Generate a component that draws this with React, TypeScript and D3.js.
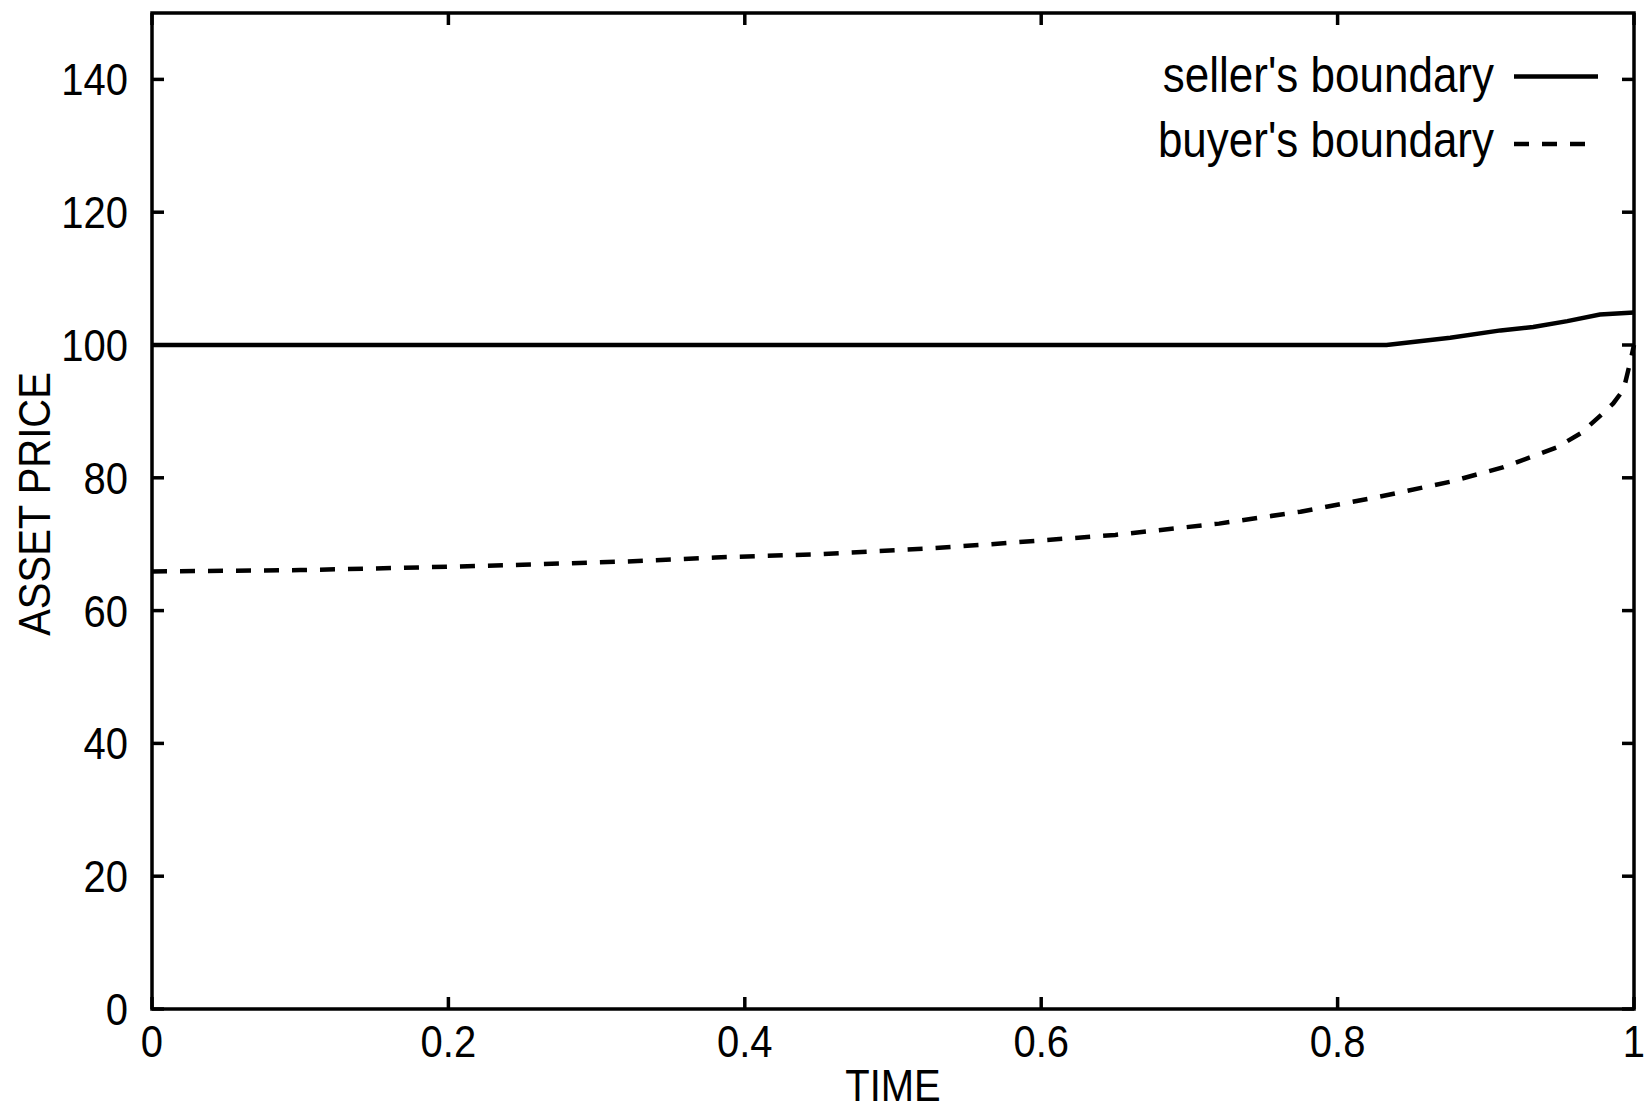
import React from "react";
import * as d3 from "d3";

const sellerT = [0, 0.833, 0.876, 0.91, 0.932, 0.955, 0.977, 1];
const sellerV = [100, 100, 101.1, 102.2, 102.7, 103.6, 104.6, 104.9];

const buyerT = [0, 0.1, 0.18, 0.25, 0.32, 0.38, 0.45, 0.52, 0.56, 0.65, 0.72, 0.775, 0.827, 0.876, 0.912, 0.948, 0.964, 0.979, 0.986, 0.993, 0.997, 1];
const buyerV = [65.9, 66.1, 66.5, 66.9, 67.4, 68.0, 68.5, 69.3, 69.9, 71.4, 73.1, 74.9, 77.1, 79.4, 81.6, 84.6, 86.7, 89.7, 91.2, 93.3, 97, 100];

const xTicks = [0, 0.2, 0.4, 0.6, 0.8, 1];
const yTicks = [0, 20, 40, 60, 80, 100, 120, 140];
const xLabel = "TIME";
const yLabel = "ASSET PRICE";
const seriesNames = ["seller's boundary", "buyer's boundary"];

const W = 1646, H = 1111;
const L = 152, R = 1634, T = 13, B = 1009;
const FONT = "'Liberation Sans', Arial, Helvetica, sans-serif";
const SY = 1.12;

export default function App() {
  const x = d3.scaleLinear().domain([0, 1]).range([L, R]);
  const y = d3.scaleLinear().domain([0, 150]).range([B, T]);
  const line = d3.line<[number, number]>().x(d => x(d[0])).y(d => y(d[1]));
  const seller = sellerT.map((t, i) => [t, sellerV[i]] as [number, number]);
  const buyer = buyerT.map((t, i) => [t, buyerV[i]] as [number, number]);
  const fmt = (v: number) => (v === 0 ? "0" : v === 1 ? "1" : String(v));
  const tickLen = 12;

  const txt = (key: string, tx: number, ty: number, s: string, anchor: string, size = 40, rot = 0) => (
    <text
      key={key}
      transform={`translate(${tx},${ty}) rotate(${rot}) scale(1,${SY})`}
      textAnchor={anchor}
      fontFamily={FONT}
      fontSize={size}
      fill="#000"
    >
      {s}
    </text>
  );

  return (
    <svg width={W} height={H} style={{ position: "absolute", left: 0, top: 0, background: "#fff" }}>
      <rect x={0} y={0} width={W} height={H} fill="#fff" />
      {/* ticks */}
      {xTicks.map(v => (
        <g key={"xt" + v} stroke="#000" strokeWidth={3.5}>
          <line x1={x(v)} x2={x(v)} y1={B} y2={B - tickLen} />
          <line x1={x(v)} x2={x(v)} y1={T} y2={T + tickLen} />
        </g>
      ))}
      {yTicks.map(v => (
        <g key={"yt" + v} stroke="#000" strokeWidth={3.5}>
          <line x1={L} x2={L + tickLen} y1={y(v)} y2={y(v)} />
          <line x1={R} x2={R - tickLen} y1={y(v)} y2={y(v)} />
        </g>
      ))}
      {/* curves */}
      <path d={line(seller) || ""} fill="none" stroke="#000" strokeWidth={4.5} />
      <path d={line(buyer) || ""} fill="none" stroke="#000" strokeWidth={4.5} strokeDasharray="15,13" />
      {/* frame */}
      <rect x={L} y={T} width={R - L} height={B - T} fill="none" stroke="#000" strokeWidth={3.5} />
      {/* tick labels */}
      {xTicks.map(v => txt("xl" + v, x(v), 1057, fmt(v), "middle"))}
      {yTicks.map(v => txt("yl" + v, 128, y(v) + 16, fmt(v), "end"))}
      {/* axis labels */}
      {txt("xlab", (L + R) / 2, 1101, xLabel, "middle")}
      {txt("ylab", 50, 504, yLabel, "middle", 40, -90)}
      {/* legend */}
      {txt("lg1", 1494, 92, seriesNames[0], "end", 44)}
      <line x1={1514} x2={1598} y1={76.5} y2={76.5} stroke="#000" strokeWidth={4.5} />
      {txt("lg2", 1494, 157, seriesNames[1], "end", 44)}
      <line x1={1514} x2={1598} y1={144} y2={144} stroke="#000" strokeWidth={4.5} strokeDasharray="15,13" />
    </svg>
  );
}
